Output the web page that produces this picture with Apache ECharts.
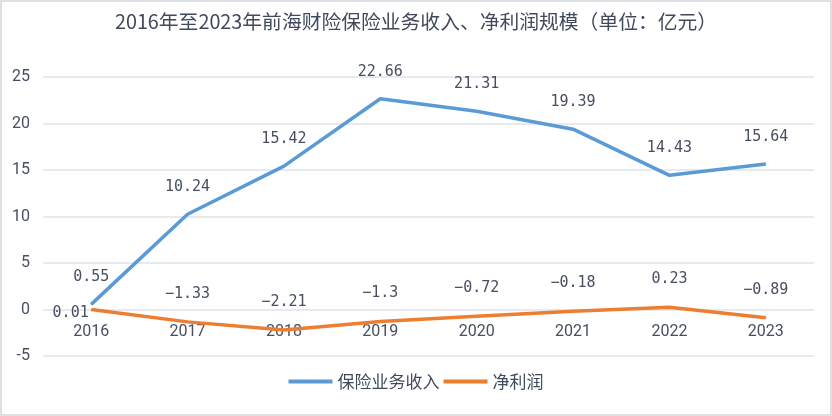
<!DOCTYPE html>
<html>
<head>
<meta charset="utf-8">
<script src="https://cdn.jsdelivr.net/npm/echarts@6/dist/echarts.min.js"></script>
<style>
html,body{margin:0;padding:0;background:#fff;}
#main{width:832px;height:416px;}
</style>
</head>
<body>
<div id="main"></div>
<script>
const categories = ['2016','2017','2018','2019','2020','2021','2022','2023'];
const insuranceRevenue = [0.55, 10.24, 15.42, 22.66, 21.31, 19.39, 14.43, 15.64];
const netProfit = [0.01, -1.33, -2.21, -1.3, -0.72, -0.18, 0.23, -0.89];
const yTicks = [-5, 0, 5, 10, 15, 20, 25];
const seriesNames = ['保险业务收入', '净利润'];
const titleText = '2016年至2023年前海财险保险业务收入、净利润规模（单位：亿元）';

const labelColor = '#474f60';
const fmt = p => String(p.value).replace('-', '\u2212');
const dataLabel = {
  show: true, position: 'top', distance: 19,
  fontFamily: 'DejaVu Sans Mono', fontSize: 15, color: labelColor,
  formatter: fmt
};

const chart = echarts.init(document.getElementById('main'), null, {renderer: 'canvas'});
chart.setOption({
  backgroundColor: '#ffffff',
  animation: false,
  graphic: [{
    type: 'rect', silent: true, z: 100,
    shape: {x: 1, y: 1, width: 830, height: 414},
    style: {fill: 'none', stroke: '#dde1e6', lineWidth: 2}
  }],
  title: {
    text: titleText, left: 'center', top: 7,
    textStyle: {fontFamily: 'Noto Sans CJK SC', fontSize: 19.8, fontWeight: 'normal', color: '#404a5c'}
  },
  legend: {
    data: seriesNames, bottom: 21, left: 'center',
    icon: 'rect', itemWidth: 44, itemHeight: 4, itemGap: 4,
    textStyle: {fontFamily: 'Noto Sans CJK SC', fontSize: 17, color: '#404a5c'}
  },
  grid: {left: 43, right: 18, top: 77, bottom: 60, containLabel: false},
  xAxis: {
    type: 'category', data: categories, boundaryGap: true,
    axisLine: {show: false, onZero: false},
    axisTick: {show: false},
    axisLabel: {margin: -32, fontFamily: 'Roboto', fontSize: 16, color: labelColor}
  },
  yAxis: {
    type: 'value', min: yTicks[0], max: yTicks[yTicks.length - 1], interval: 5,
    axisLine: {show: false}, axisTick: {show: false},
    axisLabel: {margin: 13, fontFamily: 'Roboto', fontSize: 16, color: labelColor},
    splitLine: {lineStyle: {color: '#dfe3e8', width: 1.5}}
  },
  series: [
    {
      name: seriesNames[0], type: 'line', data: insuranceRevenue,
      showSymbol: true, symbol: 'circle', symbolSize: 1,
      lineStyle: {color: '#5b9bd5', width: 3.5}, itemStyle: {color: '#5b9bd5'},
      label: dataLabel, z: 3
    },
    {
      name: seriesNames[1], type: 'line',
      data: netProfit.map((v, i) => i === 0
        ? {value: v, label: {position: 'left', distance: 2, offset: [0, 4]}}
        : v),
      showSymbol: true, symbol: 'circle', symbolSize: 1,
      lineStyle: {color: '#ed7d31', width: 3.5}, itemStyle: {color: '#ed7d31'},
      label: Object.assign({}, dataLabel, {distance: 20}), z: 4
    }
  ]
});
</script>
</body>
</html>
